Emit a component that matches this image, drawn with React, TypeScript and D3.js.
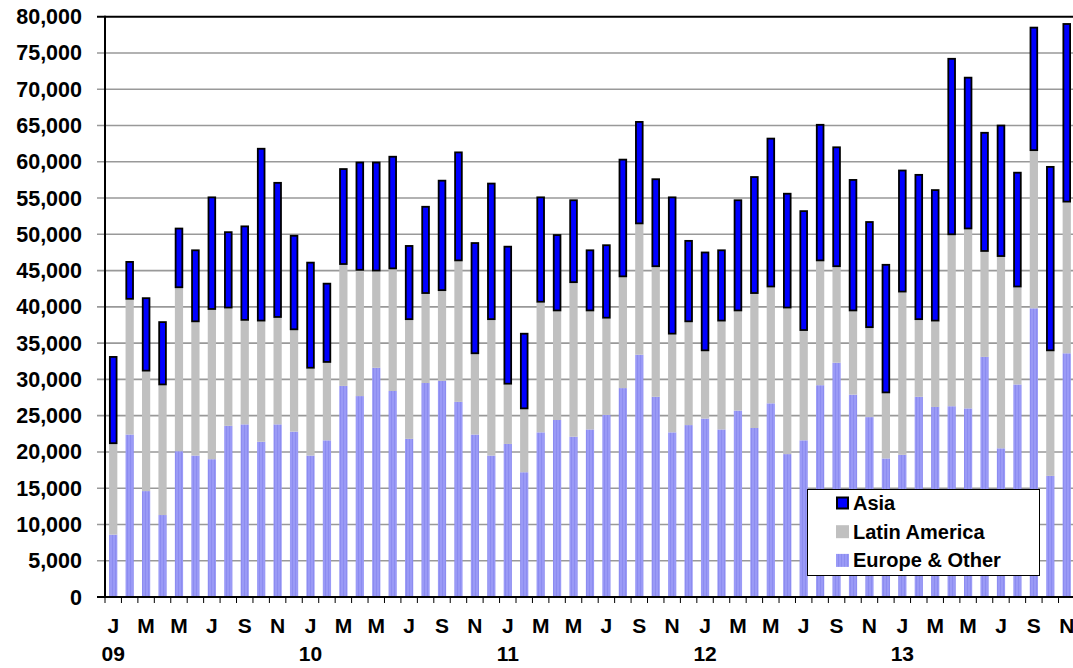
import React from "react";
import * as d3 from "d3";

const monthInitials = ["J", "F", "M", "A", "M", "J", "J", "A", "S", "O", "N", "D"];
const years = ["09", "10", "11", "12", "13"];
const monthCount = 59;

const europe = [8600, 22400, 14600, 11300, 20100, 19500, 19000, 23600, 23800, 21400,
  23800, 22800, 19500, 21600, 29100, 27700, 31600, 28400, 21800, 29500,
  29800, 26900, 22400, 19500, 21100, 17200, 22700, 24400, 22100, 23100,
  25100, 28800, 33400, 27600, 22700, 23700, 24600, 23100, 25700, 23300,
  26700, 19700, 21600, 29200, 32300, 27900, 24800, 19100, 19600, 27600,
  26200, 26300, 26000, 33100, 20500, 29300, 39800, 16700, 33600];

const latinAmerica = [12500, 18600, 16500, 17900, 22500, 18400, 20600, 16200, 14300, 16600,
  14700, 14000, 12000, 10700, 16700, 17300, 13300, 16800, 16400, 12300,
  12400, 19400, 11100, 18700, 8200, 8700, 17900, 15000, 21200, 16300,
  13300, 15300, 18000, 17900, 13500, 14200, 9300, 14900, 13700, 18500,
  16000, 20100, 15100, 17100, 13200, 11500, 12300, 9000, 22400, 10600,
  11800, 23600, 24700, 14500, 26400, 13400, 21700, 17200, 20800];

const asia = [12100, 5300, 10200, 8800, 8300, 10000, 15600, 10600, 13100, 23900,
  18700, 13100, 14700, 11000, 13300, 15000, 15100, 15600, 10300, 12100,
  15300, 15100, 15400, 18900, 19100, 10500, 14600, 10600, 11500, 8500,
  10200, 16300, 14200, 12200, 19000, 11300, 13700, 9900, 15400, 16200,
  20600, 15900, 16600, 18900, 16600, 18200, 14700, 17800, 16900, 20100,
  18200, 24400, 21000, 16500, 18200, 15900, 17100, 25500, 24700];

const yTicks = [0, 5000, 10000, 15000, 20000, 25000, 30000, 35000, 40000, 45000, 50000, 55000, 60000, 65000, 70000, 75000, 80000];

const seriesNames = ["Europe & Other", "Latin America", "Asia"];

const categories = d3.range(monthCount).map((i) => ({
  key: `m${i}`,
  month: monthInitials[i % 12],
  year: i % 12 === 0 ? years[Math.floor(i / 12)] : "",
  showLabel: i % 2 === 0,
}));

const W = 1073;
const H = 668;
const plotLeft = 105;
const band = 16.44;
const plotRight = plotLeft + band * monthCount;
const yBottom = 597;
const yTop = 16.7;

const FONT = "'Liberation Sans', Arial, sans-serif";

export default function App() {
  const x = d3
    .scaleBand<string>()
    .domain(categories.map((c) => c.key))
    .range([plotLeft, plotRight])
    .paddingInner(0.5)
    .paddingOuter(0.25);
  const y = d3.scaleLinear().domain([0, 80000]).range([yBottom, yTop]);

  const rows = categories.map((c, i) => ({
    key: c.key,
    "Europe & Other": europe[i],
    "Latin America": latinAmerica[i],
    Asia: asia[i],
  }));
  const stacked = d3.stack<any>().keys(seriesNames)(rows);

  const bw = x.bandwidth();
  const bandStep = x.step();

  return (
    <svg
      width={W}
      height={H}
      style={{ position: "absolute", left: 0, top: 0, background: "#fff" }}
      fontFamily={FONT}
    >
      <defs>
        <pattern id="euroPat" width="3" height="4" patternUnits="userSpaceOnUse">
          <rect width="3" height="4" fill="#9a9af6" />
          <rect x="1" width="1" height="4" fill="#8c8cf0" />
        </pattern>
      </defs>
      <rect width={W} height={H} fill="#fff" />

      {/* gridlines */}
      {yTicks.map((t) => (
        <line
          key={`g${t}`}
          x1={plotLeft - 8}
          x2={W}
          y1={y(t)}
          y2={y(t)}
          stroke={t === 80000 ? "#000" : "#999"}
          strokeWidth={t === 80000 ? 2 : 1.6}
        />
      ))}

      {/* bars */}
      {stacked.map((layer) =>
        layer.map((d, i) => {
          const key = categories[i].key;
          const x0 = x(key)!;
          const top = y(d[1]);
          const bot = y(d[0]);
          if (layer.key === "Asia") {
            return (
              <rect
                key={`${layer.key}${i}`}
                x={x0 + 0.75}
                y={top + 0.75}
                width={bw - 1.5}
                height={Math.max(0, bot - top - 1.5)}
                fill="#0000ff"
                stroke="#000"
                strokeWidth={1.8}
              />
            );
          }
          return (
            <rect
              key={`${layer.key}${i}`}
              x={x0}
              y={top}
              width={bw}
              height={bot - top}
              fill={layer.key === "Latin America" ? "#c0c0c0" : "url(#euroPat)"}
            />
          );
        })
      )}

      {/* axes */}
      <line x1={plotLeft} x2={plotLeft} y1={yTop - 1} y2={yBottom + 1} stroke="#000" strokeWidth={2} />
      <line x1={plotLeft - 8} x2={W} y1={yBottom} y2={yBottom} stroke="#000" strokeWidth={2} />
      {d3.range(monthCount + 1).map((i) => (
        <line
          key={`t${i}`}
          x1={plotLeft + i * bandStep}
          x2={plotLeft + i * bandStep}
          y1={yBottom}
          y2={yBottom + 6}
          stroke="#000"
          strokeWidth={1}
        />
      ))}

      {/* y labels */}
      {yTicks.map((t) => (
        <text
          key={`yl${t}`}
          x={82}
          y={y(t) + 7.5}
          textAnchor="end"
          fontSize={21.5}
          fontWeight="bold"
          fill="#000"
        >
          {d3.format(",")(t)}
        </text>
      ))}

      {/* x labels */}
      {categories.map((c) => {
        const cx = x(c.key)! + bw / 2;
        return (
          <g key={`xl${c.key}`}>
            {c.showLabel && (
              <text x={cx} y={633} textAnchor="middle" fontSize={21} fontWeight="bold" fill="#000">
                {c.month}
              </text>
            )}
            {c.year && (
              <text x={cx} y={661} textAnchor="middle" fontSize={21} fontWeight="bold" fill="#000">
                {c.year}
              </text>
            )}
          </g>
        );
      })}

      {/* legend */}
      <g>
        <rect x={807.5} y={489.5} width={232} height={86} fill="#fff" stroke="#000" strokeWidth={1} />
        {[
          { name: "Asia", fill: "#0000ff", stroke: "#000" },
          { name: "Latin America", fill: "#c0c0c0", stroke: "none" },
          { name: "Europe & Other", fill: "url(#euroPat)", stroke: "none" },
        ].map((it, k) => {
          const cy = 503 + k * 28.7;
          return (
            <g key={it.name}>
              <rect
                x={it.stroke === "none" ? 836 : 837}
                y={cy - (it.stroke === "none" ? 6.5 : 5.5)}
                width={it.stroke === "none" ? 13 : 11}
                height={it.stroke === "none" ? 13 : 11}
                fill={it.fill}
                stroke={it.stroke}
                strokeWidth={2}
              />
              <text x={853} y={cy + 7} fontSize={20} fontWeight="bold" fill="#000">
                {it.name}
              </text>
            </g>
          );
        })}
      </g>
    </svg>
  );
}
